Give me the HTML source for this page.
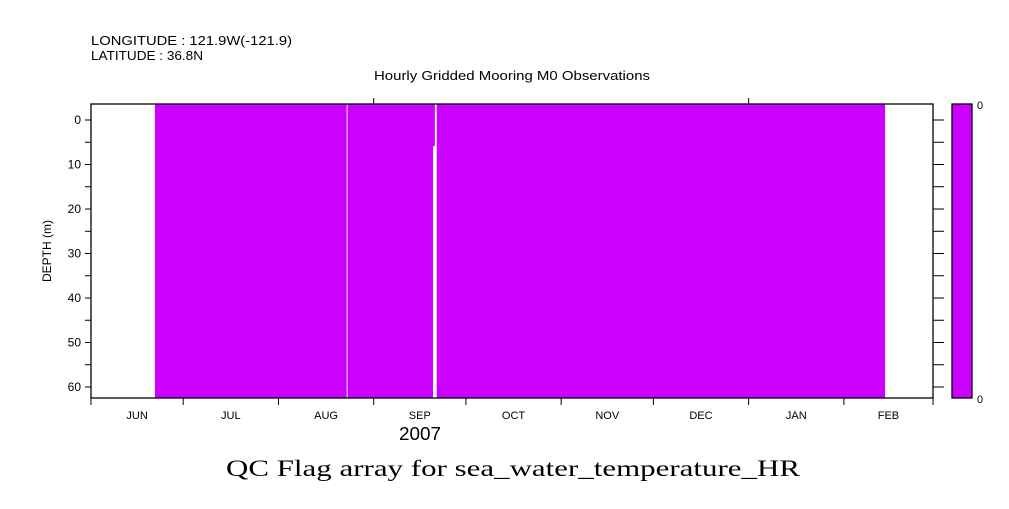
<!DOCTYPE html>
<html><head><meta charset="utf-8"><style>
body{margin:0;background:#fff;width:1009px;height:504px;overflow:hidden}
svg text{font-family:"Liberation Sans",sans-serif;fill:#000}
</style></head><body>
<svg id="chart" width="1009" height="504" viewBox="0 0 1009 504" xmlns="http://www.w3.org/2000/svg">
<text x="91" y="45" font-size="13" textLength="201" lengthAdjust="spacingAndGlyphs">LONGITUDE : 121.9W(-121.9)</text>
<text x="91" y="60" font-size="13" textLength="112" lengthAdjust="spacingAndGlyphs">LATITUDE : 36.8N</text>
<text x="374" y="80" font-size="13" textLength="276" lengthAdjust="spacingAndGlyphs">Hourly Gridded Mooring M0 Observations</text>
<text transform="translate(51,251) rotate(-90)" font-size="12" text-anchor="middle">DEPTH (m)</text>
<text x="399" y="440" font-size="18" textLength="42" lengthAdjust="spacingAndGlyphs">2007</text>
<text x="226" y="476" font-size="23" textLength="574" lengthAdjust="spacingAndGlyphs" style="font-family:'Liberation Serif',serif">QC Flag array for sea_water_temperature_HR</text>
<g id="marks"></g>
<g id="axes"></g>
</svg>
<script>
// x: days since 2007-06-01; y: depth (m)
const monthLabels=["JUN","JUL","AUG","SEP","OCT","NOV","DEC","JAN","FEB"];
const monthStartDays=[0,30,61,92,122,153,183,214,245,274];
const yTicks=[0,10,20,30,40,50,60];
const segStartDay=[20.8,83.5,111.3,112.5];
const segEndDay=[83.2,111.3,111.9,258.4];
const segTopDepth=[-3.6,-3.6,-3.6,-3.6];
const segBottomDepth=[62.5,62.5,5.9,62.5];
const flagValues=[0,0,0,0];
const colorbarLabels=["0","0"];

const L=91,R=933,T=104,B=398;
const x=d=>L+d*(R-L)/274;
const y=v=>120+v*(387-120)/60;
const NS="http://www.w3.org/2000/svg";
function mk(tag,attrs,parent){const e=document.createElementNS(NS,tag);for(const k in attrs)e.setAttribute(k,attrs[k]);parent.appendChild(e);return e;}
const marks=document.getElementById('marks'),axes=document.getElementById('axes');
const color=v=>'#cc00ff';
segStartDay.forEach((s,i)=>{
  const r=mk('rect',{x:x(s),y:y(segTopDepth[i]),width:x(segEndDay[i])-x(s),height:y(segBottomDepth[i])-y(segTopDepth[i]),fill:color(flagValues[i])},marks);
  
  
});
const frame=mk('rect',{x:L,y:T,width:R-L,height:B-T,fill:'none',stroke:'#000','stroke-width':1.3},axes);


for(let d=0;d<=60;d+=5){
  const t=mk('line',{x1:L-6,x2:L,y1:y(d),y2:y(d),stroke:'#000'},axes);
  
  
  const t2=mk('line',{x1:R,x2:R+11,y1:y(d),y2:y(d),stroke:'#000'},axes);
  
  
}
mk('line',{x1:R,x2:R,y1:T,y2:B+6,stroke:'#000'},axes);
yTicks.forEach(v=>{
  const tx=mk('text',{x:L-10,y:y(v)+4,'font-size':12,'text-anchor':'end'},axes);
  tx.textContent=v;
  
  
});
monthStartDays.forEach((d,i)=>{
  const t=mk('line',{x1:x(d),x2:x(d),y1:B,y2:B+7,stroke:'#000'},axes);
  
  
  if(i<monthLabels.length){
    const tx=mk('text',{x:(x(d)+x(monthStartDays[i+1]))/2,y:419,'font-size':11,'text-anchor':'middle'},axes);
    tx.textContent=monthLabels[i];
    
    
  }
});
[92,214].forEach(d=>{const t=mk('line',{x1:x(d),x2:x(d),y1:T-6,y2:T,stroke:'#000'},axes);
  
  });
const cb=mk('rect',{x:952,y:T,width:20,height:B-T,fill:color(0),stroke:'#000','stroke-width':1.3},axes);


colorbarLabels.forEach((l,i)=>{
  const tx=mk('text',{x:977,y:i?B+5:T+5,'font-size':11},axes);
  tx.textContent=l;
  
  
});
</script>
</body></html>
